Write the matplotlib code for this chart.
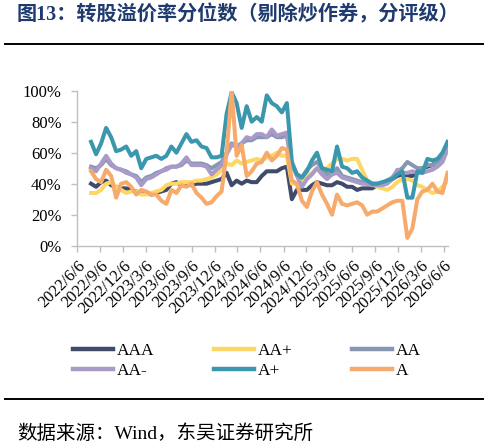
import matplotlib
matplotlib.use("Agg")
import matplotlib.pyplot as plt
from matplotlib.lines import Line2D
import pandas as pd

# ---------------- data ----------------
dates = pd.date_range("2022-08-01", periods=72, freq="20D")

aaa = [40, 38, 41, 42, 39, 38, 37, 37, 36, 35, 34, 34, 33, 34, 35, 36, 40, 41, 39, 40,
       39, 40, 40, 40, 41, 42, 43, 47, 39, 42, 40, 42, 41, 41, 45, 48, 48, 48, 50, 51,
       30, 36, 36, 36, 39, 41, 40, 39, 39, 41, 40, 38, 38, 36, 37, 37, 37, 39, 40, 42,
       43, 45, 46, 45, 45, 47, 50, 51, 52, 55, 58, 63]
aa_plus = [34, 34, 36, 40, 41, 38, 36, 34, 35, 35, 33, 33, 34, 35, 36, 39, 40, 40, 41, 41,
           41, 42, 42, 43, 44, 46, 49, 53, 52, 55, 53, 54, 55, 56, 55, 57, 58, 60, 58, 58,
           40, 40, 42, 44, 47, 50, 48, 50, 53, 56, 56, 55, 56, 56, 49, 42, 40, 38, 37, 36,
           38, 41, 43, 43, 42, 39, 38, 36, 34, 35, 38, 42]
aa = [51, 50, 52, 56, 52, 50, 49, 48, 46, 45, 41, 44, 45, 47, 48, 50, 51, 51, 52, 55,
      53, 53, 53, 52, 50, 52, 54, 60, 66, 64, 66, 68, 68, 70, 70, 70, 72, 70, 70, 71,
      52, 46, 44, 49, 52, 54, 50, 46, 46, 50, 45, 44, 43, 42, 41, 40, 40, 40, 40, 42,
      44, 48, 50, 54, 52, 50, 50, 52, 52, 54, 58, 64]
aa_minus = [50, 48, 53, 58, 53, 50, 49, 47, 46, 44, 39, 43, 44, 46, 48, 49, 51, 51, 53, 57,
            52, 52, 52, 51, 46, 49, 52, 59, 65, 64, 66, 70, 69, 72, 72, 70, 75, 71, 72, 73,
            52, 45, 38, 43, 46, 50, 46, 43, 46, 47, 44, 43, 42, 41, 40, 40, 39, 39, 39, 40,
            43, 49, 47, 47, 48, 47, 47, 48, 49, 51, 54, 62]
a_plus = [67, 59, 66, 76, 70, 61, 62, 64, 58, 61, 50, 56, 57, 58, 56, 58, 64, 60, 66, 72,
          67, 68, 64, 63, 57, 57, 58, 85, 99, 92, 76, 90, 80, 83, 80, 97, 92, 90, 86, 92,
          54, 46, 44, 48, 55, 60, 50, 49, 48, 64, 51, 50, 47, 48, 44, 42, 40, 40, 41, 42,
          43, 46, 48, 31, 31, 48, 47, 56, 55, 56, 60, 67]
a = [48, 43, 41, 49, 45, 31, 40, 41, 38, 33, 36, 35, 33, 33, 29, 27, 36, 34, 39, 38,
     40, 34, 31, 27, 28, 32, 35, 60, 100, 58, 65, 45, 48, 53, 54, 60, 55, 58, 63, 62,
     42, 40, 29, 25, 35, 41, 33, 27, 20, 33, 27, 26, 27, 28, 26, 20, 22, 22, 24, 26,
     28, 29, 29, 5, 11, 30, 35, 36, 40, 35, 34, 47]

series_names = ["AAA", "AA+", "AA", "AA-", "A+", "A"]
series_values = [aaa, aa_plus, aa, aa_minus, a_plus, a]
colors = ["#404B69", "#FDD766", "#8797B2", "#A99BC8", "#3A97AE", "#F6AA6B"]

tick_dates = ["2022/6/6", "2022/9/6", "2022/12/6", "2023/3/6", "2023/6/6", "2023/9/6",
              "2023/12/6", "2024/3/6", "2024/6/6", "2024/9/6", "2024/12/6", "2025/3/6",
              "2025/6/6", "2025/9/6", "2025/12/6", "2026/3/6", "2026/6/6"]
y_ticks = [0, 20, 40, 60, 80, 100]

title = "图13：转股溢价率分位数（剔除炒作券，分评级）"
source = "数据来源：Wind，东吴证券研究所"

# ---------------- figure ----------------
W, H = 490, 447
fig = plt.figure(figsize=(W / 100, H / 100), dpi=100)
serif = ["Liberation Serif", "Noto Sans CJK SC"]

ax = fig.add_axes([77 / W, 1 - 245.7 / H, (447.5 - 77) / W, (245.7 - 90.7) / H])

lines = []
for name, vals, c in zip(series_names, series_values, colors):
    ln, = ax.plot(dates, vals, color=c, lw=2.9, label=name, solid_joinstyle="round")
    lines.append(ln)

ax.set_ylim(0, 100)
ax.set_yticks(y_ticks)
ax.set_yticklabels([f"{v}%" for v in y_ticks], family=serif, fontsize=12)
ax.set_xlim(pd.Timestamp("2022-06-06"), pd.Timestamp("2026-06-21"))
tick_pos = [pd.Timestamp(t.replace("/", "-")) for t in tick_dates]
ax.set_xticks(tick_pos)
ax.set_xticklabels(tick_dates, family=serif, fontsize=12, rotation=45,
                   ha="right", rotation_mode="anchor")

for s in ["top", "right"]:
    ax.spines[s].set_visible(False)
for s in ["left", "bottom"]:
    ax.spines[s].set_color("#BFBFBF")
    ax.spines[s].set_linewidth(1.0)
ax.tick_params(axis="both", colors="#BFBFBF", labelcolor="black", length=4, width=1.0)
ax.tick_params(axis="y", pad=7)
ax.tick_params(axis="x", pad=5)

# legend (row-major order like the reference: matplotlib fills column by column)
order = [0, 3, 1, 4, 2, 5]
handles = [Line2D([], [], color=colors[i], lw=3.2) for i in order]
labels = [series_names[i] for i in order]
fig.legend(handles, labels, ncol=3, loc="upper left",
           bbox_to_anchor=(73 / W, 1 - 343 / H), frameon=False,
           prop={"family": serif, "size": 12.5}, handlelength=2.3,
           handletextpad=0.25, columnspacing=3.4, labelspacing=0.2,
           borderpad=0, borderaxespad=0)

# title, rules, source
fig.text(17 / W, 1 - 15.5 / H, title, family=serif, fontsize=14.5, fontweight="bold",
         color="#1F3A6E", ha="left", va="center")
fig.add_artist(Line2D([5 / W, 483 / W], [1 - 43.5 / H, 1 - 43.5 / H], color="black", lw=1.4))
fig.add_artist(Line2D([5 / W, 483 / W], [1 - 399 / H, 1 - 399 / H], color="black", lw=1.4))
fig.text(17 / W, 1 - 433.5 / H, source, family=serif, fontsize=14, color="black",
         ha="left", va="center")

fig.savefig("out.png", dpi=100)
